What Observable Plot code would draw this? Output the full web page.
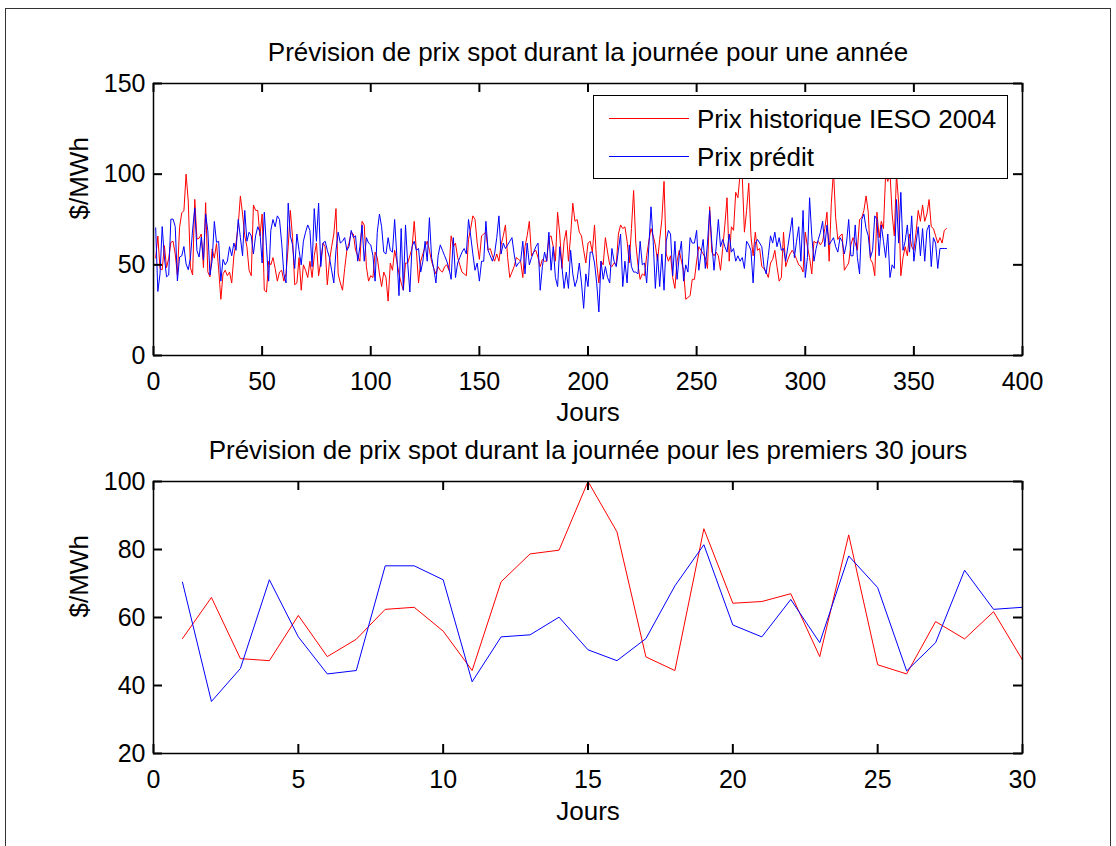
<!DOCTYPE html>
<html><head><meta charset="utf-8">
<script src="https://cdn.jsdelivr.net/npm/d3@7"></script>
<script src="https://cdn.jsdelivr.net/npm/@observablehq/plot@0.6"></script>
<style>
body{margin:0;background:#fff;}
#fig{position:relative;width:1116px;height:846px;overflow:hidden;font-family:"Liberation Sans",Arial,sans-serif;background:#fff;}
#border{position:absolute;left:5px;top:8px;width:1104px;height:900px;border:1px solid #333;}
.panel{position:absolute;left:0;}
#legend{position:absolute;left:593px;top:95px;width:415px;height:84px;background:#fff;border:1px solid #000;box-sizing:border-box;}
.lrow{position:absolute;left:0;height:30px;width:100%;}
.sw{position:absolute;left:15px;top:14px;width:80px;height:0;border-top:1px solid;}
.lt{position:absolute;left:103px;top:0;line-height:30px;font-size:26px;color:#000;white-space:nowrap;}
</style></head>
<body>
<div id="fig">
  <div id="border"></div>
  <div id="top" class="panel" style="top:0"></div>
  <div id="bot" class="panel" style="top:420px"></div>
  <div id="legend"></div>
</div>
<script>
// ---- data ----
const topTitle = "Prévision de prix spot durant la journée pour une année";
const botTitle = "Prévision de prix spot durant la journée pour les premiers 30 jours";
const xLabel = "Jours";
const yLabel = "$/MWh";
const seriesNames = ["Prix historique IESO 2004", "Prix prédit"];
const seriesColors = ["#ff0000", "#0000ff"];
const topXTicks = [0, 50, 100, 150, 200, 250, 300, 350, 400];
const topYTicks = [0, 50, 100, 150];
const botXTicks = [0, 5, 10, 15, 20, 25, 30];
const botYTicks = [20, 40, 60, 80, 100];

// historical price, days 1..365
const histPrice = [
53.8, 65.9, 47.9, 47.3, 60.6, 48.5, 53.6, 62.4, 63.0, 56.0,
44.4, 70.5, 78.7, 79.8, 100, 85.2, 48.4, 44.4, 86.1, 64.2,
64.7, 67.0, 48.5, 84.3, 46.1, 43.4, 58.8, 53.7, 61.7, 47.5,
31, 45, 47, 44, 46, 40, 55, 62, 72, 88,
78, 66, 60, 47, 44, 83, 80, 80, 66, 78,
36, 35, 52, 50, 54, 48, 41, 46, 47, 41,
45, 60, 80, 65, 39, 40, 54, 36, 50, 47,
43, 52, 43, 55, 62, 44, 52, 62, 60, 39,
52, 60, 67, 81, 45, 40, 36, 48, 58, 62,
68, 67, 58, 55, 52, 74, 72, 49, 41, 44,
43, 57, 54, 45, 38, 46, 43, 30, 51, 47,
58, 52, 45, 40, 36, 51, 51, 55, 59, 74,
58, 40, 52, 56, 60, 63, 58, 52, 48, 45,
49, 47, 46, 49, 50, 47, 66, 60, 62, 54,
50, 46, 45, 44, 64, 70, 77, 75, 62, 53,
66, 67, 68, 58, 59, 55, 52, 56, 52, 61,
66, 72, 54, 43, 46, 49, 54, 53, 52, 43,
60, 66, 74, 55, 57, 58, 54, 49, 53, 52,
52, 65, 66, 60, 52, 79, 67, 48, 63, 69,
52, 66, 84, 74, 75, 68, 66, 58, 51, 62,
63, 57, 72, 51, 40, 52, 50, 65, 57, 50,
49, 51, 50, 67, 72, 70, 71, 63, 51, 70,
91, 62, 50, 42, 45, 44, 55, 63, 70, 66,
61, 52, 64, 75, 96, 56, 52, 55, 43, 37,
52, 58, 52, 47, 31, 32, 33, 42, 42, 52,
60, 58, 56, 54, 48, 82, 57, 55, 57, 55,
47, 59, 72, 87, 52, 71, 69, 90, 87, 100,
99, 68, 80, 95, 66, 55, 68, 58, 59, 49,
48, 46, 43, 51, 53, 58, 49, 41, 43, 68,
49, 53, 56, 58, 56, 53, 50, 49, 46, 68,
60, 54, 45, 63, 62, 63, 61, 63, 70, 79,
52, 84, 102, 76, 64, 66, 67, 47, 49, 51,
61, 65, 62, 58, 75, 76, 80, 88, 79, 53,
51, 44, 79, 65, 74, 70, 100, 96, 101, 78,
66, 100, 84, 44, 54, 60, 55, 67, 60, 58,
68, 80, 74, 83, 74, 78, 86, 71, 70, 66,
62, 65, 62, 69, 70
];

// predicted price, days 1..365
const predPrice = [
70.4, 35.3, 45.0, 71.1, 54.3, 43.4, 44.4, 75.2, 75.2, 71.1,
41.1, 54.3, 54.9, 60.1, 50.5, 47.3, 53.8, 69.3, 81.4, 57.8,
54.3, 65.3, 52.6, 78.1, 68.8, 44.3, 52.6, 73.9, 62.4, 63.0,
41, 53, 50, 52, 60, 55, 62, 58, 75, 65,
55, 80, 63, 68, 66, 56, 66, 71, 68, 51,
79, 60, 41, 69, 75, 71, 77, 75, 62, 45,
40, 84, 66, 61, 48, 67, 58, 50, 63, 68,
72, 69, 49, 81, 63, 84, 49, 62, 63, 58,
54, 47, 40, 58, 68, 62, 63, 65, 58, 60,
69, 65, 66, 52, 60, 72, 52, 65, 62, 61,
55, 41, 68, 78, 71, 57, 56, 65, 58, 57,
75, 55, 33, 70, 36, 72, 51, 35, 60, 63,
58, 59, 46, 52, 63, 52, 76, 54, 48, 40,
55, 61, 58, 55, 52, 48, 42, 65, 43, 51,
54, 57, 59, 56, 75, 66, 56, 47, 51, 41,
52, 52, 74, 58, 55, 52, 56, 65, 77, 56,
62, 59, 61, 63, 65, 56, 49, 51, 52, 63,
45, 62, 50, 54, 57, 60, 62, 36, 49, 57,
52, 68, 47, 60, 43, 38, 60, 49, 37, 46,
37, 58, 45, 38, 42, 51, 40, 26, 45, 38,
57, 57, 51, 40, 24, 52, 42, 49, 43, 40,
59, 52, 49, 58, 67, 38, 52, 40, 61, 49,
46, 46, 45, 63, 50, 51, 40, 60, 82, 63,
37, 56, 38, 56, 36, 63, 69, 67, 44, 63,
42, 55, 63, 41, 50, 46, 65, 62, 62, 69,
47, 56, 64, 48, 62, 80, 62, 47, 60, 75,
60, 64, 60, 57, 67, 57, 59, 52, 55, 52,
54, 48, 63, 61, 58, 40, 62, 64, 62, 60,
49, 45, 55, 66, 62, 68, 60, 65, 58, 59,
52, 60, 68, 76, 54, 63, 71, 52, 80, 43,
54, 87, 66, 52, 59, 64, 68, 74, 60, 72,
61, 63, 65, 60, 57, 65, 63, 56, 62, 75,
55, 55, 72, 54, 45, 75, 78, 70, 66, 54,
58, 77, 75, 55, 72, 63, 54, 67, 43, 50,
48, 86, 62, 90, 58, 63, 72, 57, 77, 52,
62, 71, 55, 70, 52, 69, 72, 49, 65, 62,
48, 59, 59, 59, 59
];

// ---- build ----
const yearRows = histPrice.map((v, i) => ({day: i + 1, hist: v, pred: predPrice[i]}));
const monthRows = yearRows.slice(0, 30);

const FS = 26;   // titles, labels
const TFS = 25;  // tick labels
const font = {fontFamily: "'Liberation Sans', Arial, sans-serif", fontSize: FS + "px", background: "transparent", overflow: "visible", color: "#000"};
const TL = 9; // inward tick length (px)

function panel({rows, xDomain, yDomain, xTicks, yTicks, title, height, mTop, mBottom, titleDy, labelDy}) {
  const W = 1116, mL = 153, mR = 94;
  const fw = W - mL - mR, fh = height - mTop - mBottom;
  const tk = {stroke: "#000", strokeWidth: 2};
  return Plot.plot({
    width: W, height,
    marginLeft: mL, marginRight: mR, marginTop: mTop, marginBottom: mBottom,
    style: font,
    x: {domain: xDomain},
    y: {domain: yDomain},
    marks: [
      Plot.line(rows, {x: "day", y: "hist", stroke: seriesColors[0], strokeWidth: 1}),
      Plot.line(rows, {x: "day", y: "pred", stroke: seriesColors[1], strokeWidth: 1}),
      // inward ticks (MATLAB style) on all four sides
      Plot.ruleX(xTicks, {x: d => d, insetTop: fh - TL, ...tk}),
      Plot.ruleX(xTicks, {x: d => d, insetBottom: fh - TL, ...tk}),
      Plot.ruleY(yTicks, {y: d => d, insetRight: fw - TL, ...tk}),
      Plot.ruleY(yTicks, {y: d => d, insetLeft: fw - TL, ...tk}),
      Plot.frame({stroke: "#000", strokeWidth: 1.5}),
      Plot.axisX(xTicks, {anchor: "bottom", tickSize: 0, tickPadding: 17, label: null, fontSize: TFS}),
      Plot.axisY(yTicks, {anchor: "left", tickSize: 0, tickPadding: 8, label: null, fontSize: TFS}),
      Plot.text([title], {text: d => d, frameAnchor: "top", lineAnchor: "middle", dy: titleDy, fontSize: FS}),
      Plot.text([xLabel], {text: d => d, frameAnchor: "bottom", lineAnchor: "middle", dy: labelDy, fontSize: FS}),
      Plot.text([yLabel], {text: d => d, frameAnchor: "left", lineAnchor: "middle", dx: -74, rotate: -90, fontSize: FS})
    ]
  });
}

document.getElementById("top").appendChild(panel({
  rows: yearRows, xDomain: [0, 400], yDomain: [0, 150], xTicks: topXTicks, yTicks: topYTicks,
  title: topTitle, height: 420, mTop: 83, mBottom: 65, titleDy: -31, labelDy: 57
}));
document.getElementById("bot").appendChild(panel({
  rows: monthRows, xDomain: [0, 30], yDomain: [20, 100], xTicks: botXTicks, yTicks: botYTicks,
  title: botTitle, height: 426, mTop: 61, mBottom: 93, titleDy: -31, labelDy: 58
}));

// legend
const leg = document.getElementById("legend");
seriesNames.forEach((name, i) => {
  const row = document.createElement("div");
  row.className = "lrow";
  row.style.top = (i === 0 ? 8 : 46) + "px";
  row.innerHTML = `<div class="sw" style="border-color:${seriesColors[i]}"></div><div class="lt">${name}</div>`;
  leg.appendChild(row);
});
</script>
</body></html>
